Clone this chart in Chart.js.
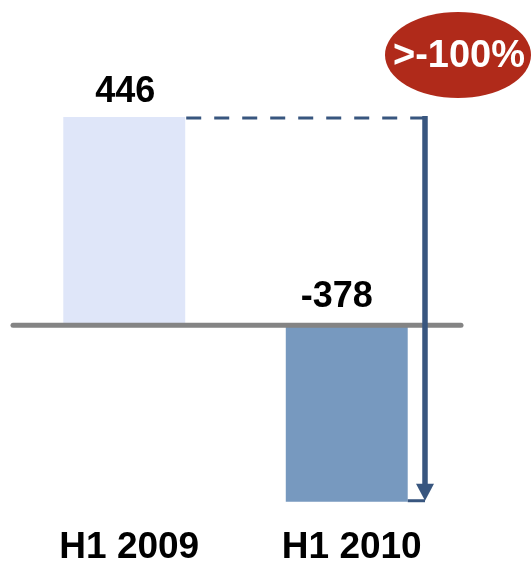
<!DOCTYPE html>
<html>
<head>
<meta charset="utf-8">
<script src="https://cdn.jsdelivr.net/npm/chart.js@4.4.1/dist/chart.umd.min.js"></script>
<style>
  html, body { margin: 0; padding: 0; background: #ffffff; }
  #wrap { width: 531px; height: 562px; position: relative; }
</style>
</head>
<body>
<div id="wrap"><canvas id="c"></canvas></div>
<script>
const categories = ['H1 2009', 'H1 2010'];
const values = [446, -378];
const valueLabels = ['446', '-378'];
const changeLabel = '>-100%';

const barColors = ['#dfe6f9', '#7799bf'];
const FONT = '"Liberation Sans", Arial, sans-serif';

const overlay = {
  id: 'overlay',
  afterDatasetsDraw(chart) {
    const ctx = chart.ctx;
    const xs = chart.scales.x, ys = chart.scales.y;
    const meta = chart.getDatasetMeta(0);
    const y0 = ys.getPixelForValue(0);
    const b1 = meta.data[0], b2 = meta.data[1];
    const yTop = ys.getPixelForValue(values[0]);
    const yBot = ys.getPixelForValue(values[1]);
    const arrowX = chart.chartArea.right - 33;

    ctx.save();
    // baseline
    ctx.strokeStyle = '#848484';
    ctx.lineWidth = 5;
    ctx.lineCap = 'round';
    ctx.beginPath();
    ctx.moveTo(chart.chartArea.left, y0);
    ctx.lineTo(chart.chartArea.right + 3, y0);
    ctx.stroke();

    // dashed connector
    ctx.strokeStyle = '#38567f';
    ctx.lineCap = 'butt';
    ctx.lineWidth = 3;
    ctx.setLineDash([15, 13]);
    ctx.beginPath();
    ctx.moveTo(b1.x + b1.width / 2 + 1, yTop + 1);
    ctx.lineTo(arrowX, yTop + 1);
    ctx.stroke();
    ctx.setLineDash([]);

    // vertical arrow
    ctx.lineWidth = 5.5;
    ctx.beginPath();
    ctx.moveTo(arrowX, yTop - 1);
    ctx.lineTo(arrowX, yBot - 14);
    ctx.stroke();
    ctx.fillStyle = '#38567f';
    ctx.beginPath();
    ctx.moveTo(arrowX - 9, yBot - 18);
    ctx.lineTo(arrowX + 9, yBot - 18);
    ctx.lineTo(arrowX, yBot - 1);
    ctx.closePath();
    ctx.fill();
    // small bottom tick
    ctx.lineWidth = 3;
    ctx.beginPath();
    ctx.moveTo(b2.x + b2.width / 2, yBot - 1);
    ctx.lineTo(arrowX, yBot - 1);
    ctx.stroke();

    // value labels
    ctx.fillStyle = '#000000';
    ctx.font = 'bold 36px ' + FONT;
    ctx.textAlign = 'center';
    ctx.textBaseline = 'alphabetic';
    ctx.fillText(valueLabels[0], b1.x + 1, yTop - 15);
    ctx.fillText(valueLabels[1], b2.x - 10, y0 - 18);

    // category labels
    ctx.font = 'bold 37px ' + FONT;
    categories.forEach((c, i) => {
      ctx.fillText(c, xs.getPixelForValue(i) + 5, 558);
    });

    // red ellipse badge
    ctx.fillStyle = '#b02a1a';
    ctx.beginPath();
    ctx.ellipse(458, 55, 73, 43, 0, 0, Math.PI * 2);
    ctx.fill();
    ctx.fillStyle = '#ffffff';
    ctx.font = 'bold 38px ' + FONT;
    ctx.textBaseline = 'middle';
    ctx.fillText(changeLabel, 459, 57);
    ctx.restore();
  }
};

new Chart(document.getElementById('c'), {
  type: 'bar',
  data: {
    labels: categories,
    datasets: [{
      data: values,
      backgroundColor: barColors,
      borderWidth: 0,
      barPercentage: 0.548,
      categoryPercentage: 1.0
    }]
  },
  options: {
    responsive: true,
    maintainAspectRatio: false,
    animation: false,
    layout: { padding: { left: 13, right: 73, top: 45, bottom: 50 } },
    plugins: { legend: { display: false }, tooltip: { enabled: false } },
    scales: {
      x: { display: false },
      y: { display: false, min: -400, max: 600 }
    }
  },
  plugins: [overlay]
});
</script>
</body>
</html>
